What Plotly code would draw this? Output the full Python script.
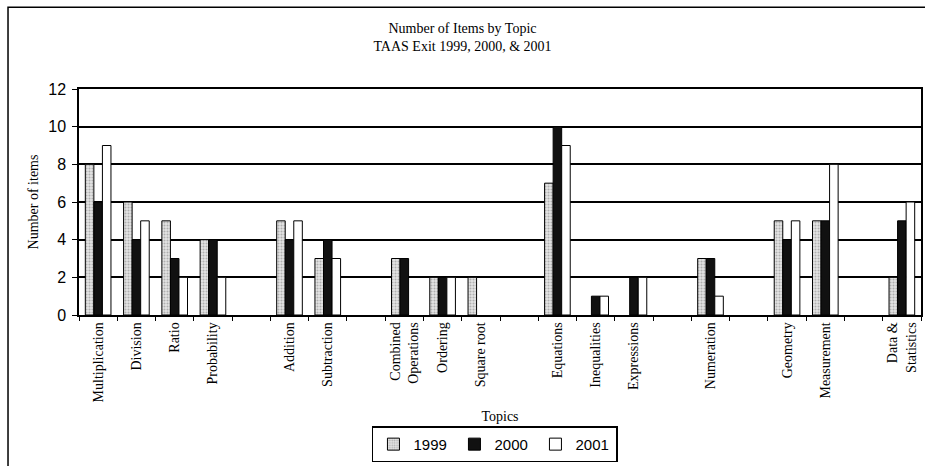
import plotly.graph_objects as go

topics = ["Multiplication", "Division", "Ratio", "Probability", " ",
          "Addition", "Subtraction", "  ",
          "Combined<br>Operations", "Ordering", "Square root", "   ",
          "Equations", "Inequalities", "Expressions", "    ",
          "Numeration", "     ", "Geometry", "Measurement", "      ",
          "Data &<br>Statistics"]
y1999 = [8, 6, 5, 4, None, 5, 3, None, 3, 2, 2, None, 7, None, None, None, 3, None, 5, 5, None, 2]
y2000 = [6, 4, 3, 4, None, 4, 4, None, 3, 2, None, None, 10, 1, 2, None, 3, None, 4, 5, None, 5]
y2001 = [9, 5, 2, 2, None, 5, 3, None, None, 2, None, None, 9, 1, 2, None, 1, None, 5, 8, None, 6]
y_ticks = [0, 2, 4, 6, 8, 10, 12]

serif = "Liberation Serif"
sans = "Liberation Sans"

fig = go.Figure()
fig.add_bar(x=topics, y=y1999, name="1999",
            marker=dict(color="#e6e6e6", line=dict(color="black", width=1),
                        pattern=dict(shape=".", fgcolor="#777777", bgcolor="#e6e6e6", size=3, solidity=0.4)))
fig.add_bar(x=topics, y=y2000, name="2000",
            marker=dict(color="#111111", line=dict(color="black", width=1)))
fig.add_bar(x=topics, y=y2001, name="2001",
            marker=dict(color="white", line=dict(color="black", width=1)))

fig.update_layout(
    width=925, height=466,
    margin=dict(l=79, r=4, t=89, b=151),
    paper_bgcolor="white", plot_bgcolor="white",
    barmode="group", bargap=0.33, bargroupgap=0,
    title=dict(text="Number of Items by Topic<br>TAAS Exit 1999, 2000, & 2001",
               x=0.5, xanchor="center", y=0.93, yanchor="top",
               font=dict(family=serif, size=14, color="black")),
    showlegend=True,
    legend=dict(orientation="h", x=0.494, xanchor="center",
                yref="container", y=0.085, yanchor="top",
                font=dict(family=sans, size=15, color="black"),
                bordercolor="black", borderwidth=1.5, bgcolor="white",
                itemwidth=30, entrywidth=36, tracegroupgap=0),
    xaxis=dict(type="category", tickson="boundaries", ticks="outside", ticklen=4,
               tickcolor="black", showline=True, linecolor="black", linewidth=1.5,
               mirror=True, tickangle=-90, automargin=False,
               tickfont=dict(family=serif, size=14, color="black"),
               title=dict(text="Topics", font=dict(family=serif, size=14, color="black"),
                          standoff=10)),
    yaxis=dict(range=[0, 12], tickvals=y_ticks, ticks="outside", ticklen=5,
               tickcolor="black", showline=True, linecolor="black", linewidth=1.5,
               mirror=True, showgrid=True, gridcolor="black", gridwidth=1.5,
               zeroline=False, ticklabelstandoff=3, automargin=False,
               tickfont=dict(family=sans, size=16, color="black"),
               title=dict(text="Number of items", font=dict(family=serif, size=14, color="black"),
                          standoff=6)),
)

fig.add_shape(type="rect", xref="paper", yref="paper",
              x0=-0.0843, x1=1.05, y0=-0.75, y1=1.362,
              line=dict(color="black", width=1.5))

fig.write_html("out.html", config={"displayModeBar": False},
               post_script="document.body.style.margin='0';document.body.style.overflow='hidden';")
